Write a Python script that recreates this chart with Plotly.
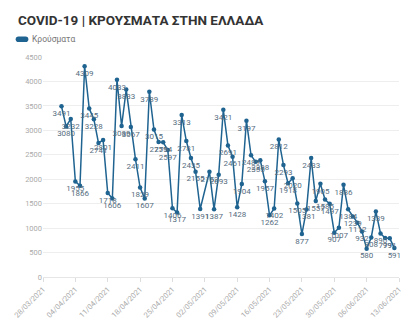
import plotly.graph_objects as go

dates = [
    "2021-04-01", "2021-04-02", "2021-04-03", "2021-04-04", "2021-04-05", "2021-04-06", "2021-04-07",
    "2021-04-08", "2021-04-09", "2021-04-10", "2021-04-11", "2021-04-12", "2021-04-13", "2021-04-14",
    "2021-04-15", "2021-04-16", "2021-04-17", "2021-04-18", "2021-04-19", "2021-04-20", "2021-04-21",
    "2021-04-22", "2021-04-23", "2021-04-24", "2021-04-25", "2021-04-26", "2021-04-27", "2021-04-28",
    "2021-04-29", "2021-04-30", "2021-05-01", "2021-05-03", "2021-05-04", "2021-05-05",
    "2021-05-06", "2021-05-07", "2021-05-08", "2021-05-09", "2021-05-10", "2021-05-11", "2021-05-12",
    "2021-05-13", "2021-05-14", "2021-05-15", "2021-05-16", "2021-05-17", "2021-05-18", "2021-05-19",
    "2021-05-20", "2021-05-21", "2021-05-22", "2021-05-23", "2021-05-24", "2021-05-25", "2021-05-26",
    "2021-05-27", "2021-05-28", "2021-05-29", "2021-05-30", "2021-05-31", "2021-06-01", "2021-06-02",
    "2021-06-03", "2021-06-04", "2021-06-05", "2021-06-06", "2021-06-07", "2021-06-08", "2021-06-09",
    "2021-06-10", "2021-06-11", "2021-06-12",
]
cases = [
    3491, 3080, 3232, 1955, 1866, 4309, 3445,
    3228, 2741, 2801, 1718, 1606, 4033, 3089,
    3833, 3067, 2411, 1829, 1607, 3789, 3015,
    2759, 2754, 2597, 1406, 1317, 3313, 2781,
    2435, 2155, 1391, 2152, 1387, 2093,
    3421, 2691, 2461, 1428, 1904, 3197, 2489,
    2355, 2388, 1957, 1262, 1402, 2812, 2293,
    1918, 2020, 1505, 877, 1381, 2433, 1557,
    1905, 1585, 1497, 907, 1007, 1886, 1384,
    1239, 1112, 932, 580, 808, 1339, 890,
    799, 791, 591,
]
series_name = "Κρούσματα"
title_text = "COVID-19 | ΚΡΟΥΣΜΑΤΑ ΣΤΗΝ ΕΛΛΑΔΑ"
y_ticks = [0, 500, 1000, 1500, 2000, 2500, 3000, 3500, 4000, 4500]

line_color = "#1f6391"
font_family = "Roboto, 'Noto Sans', sans-serif"

fig = go.Figure()
fig.add_trace(go.Scatter(
    x=dates, y=cases, name=series_name,
    mode="lines+markers+text",
    text=[str(v) for v in cases],
    textposition="bottom center",
    textfont=dict(family=font_family, size=8, color="#566d80"),
    line=dict(color=line_color, width=1.5),
    marker=dict(color=line_color, size=4.5),
    showlegend=False,
    cliponaxis=False,
))

fig.update_layout(
    width=415, height=332,
    margin=dict(l=38, r=12, t=57, b=40),
    paper_bgcolor="white", plot_bgcolor="white",
    font=dict(family=font_family, color="#999"),
    xaxis=dict(
        type="date",
        range=["2021-03-28", "2021-06-13"],
        tick0="2021-03-28", dtick=7 * 24 * 3600 * 1000,
        tickformat="%d/%m/%Y", tickangle=-45,
        tickfont=dict(size=7.5, color="#aaa"),
        showgrid=False, ticks="outside", ticklen=4, tickcolor="#ddd",
        showline=True, linecolor="#e6e6e6", linewidth=1,
        zeroline=False,
    ),
    yaxis=dict(
        range=[0, 4500], tickvals=y_ticks, tickformat="d",
        tickfont=dict(size=7.5, color="#aaa"),
        showgrid=True, gridcolor="#eeeeee", gridwidth=1,
        zeroline=False, ticks="", showline=False,
    ),
    annotations=[
        dict(text="<b>" + title_text + "</b>", xref="paper", yref="paper",
             x=(10 - 38) / 365, y=(292 - 17) / 235, xanchor="left", yanchor="middle",
             showarrow=False, font=dict(family=font_family, size=13.5, color="#333")),
        dict(text=series_name, xref="paper", yref="paper",
             x=(25 - 38) / 365, y=(292 - 38) / 235, xanchor="left", yanchor="middle",
             showarrow=False, font=dict(family=font_family, size=8.5, color="#777")),
    ],
)

# legend swatch (rounded rectangle) in paper coordinates
x0, x1 = (10 - 38) / 365, (23 - 38) / 365
y0, y1 = (292 - 41) / 235, (292 - 35) / 235
r = (x1 - x0) * 0.22
ry = (y1 - y0) * 0.5
path = (f"M {x0 + r},{y0} L {x1 - r},{y0} Q {x1},{y0} {x1},{y0 + ry} "
        f"Q {x1},{y1} {x1 - r},{y1} L {x0 + r},{y1} Q {x0},{y1} {x0},{y0 + ry} "
        f"Q {x0},{y0} {x0 + r},{y0} Z")
fig.add_shape(type="path", path=path, xref="paper", yref="paper",
              fillcolor=line_color, line=dict(width=0))

fig.write_html("out.html")
